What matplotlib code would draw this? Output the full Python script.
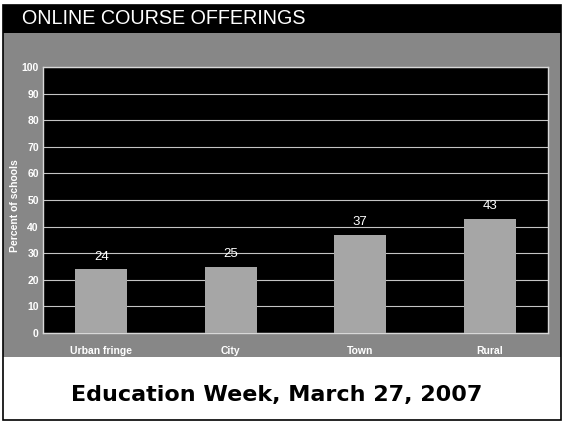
import matplotlib
matplotlib.use('Agg')
import matplotlib.pyplot as plt
from matplotlib.patches import Rectangle

categories = ['Urban fringe', 'City', 'Town', 'Rural']
values = [24, 25, 37, 43]
yticks = [0, 10, 20, 30, 40, 50, 60, 70, 80, 90, 100]

W, H = 564, 423
fig = plt.figure(figsize=(W / 100, H / 100), dpi=100)
fig.patch.set_facecolor('white')


def box(x0, y0, x1, y1, z=-10, **kw):
    # pixel coords from the top-left corner
    r = Rectangle((x0 / W, 1 - y1 / H), (x1 - x0) / W, (y1 - y0) / H,
                  transform=fig.transFigure, figure=fig, zorder=z, **kw)
    fig.patches.append(r)


box(3, 33, 561, 357, facecolor='#878787', edgecolor='none')
box(3, 5, 561, 33, facecolor='black', edgecolor='none')
box(3, 5, 561, 420, z=10, facecolor='none', edgecolor='black', linewidth=1.2)

fig.text(22 / W, 1 - 19 / H, 'ONLINE COURSE OFFERINGS', color='white',
         fontsize=14.2, family='Liberation Sans', va='center', ha='left')
fig.text(277 / W, 1 - 395 / H, 'Education Week, March 27, 2007', color='black',
         fontsize=16, fontweight='bold', family='DejaVu Sans', va='center', ha='center')

ax = fig.add_axes([43 / W, 1 - 333 / H, 505 / W, 266 / H])
ax.set_facecolor('black')
x = list(range(len(categories)))
ax.bar(x, values, width=0.4, color='#a6a6a6', zorder=3)
for xi, v in zip(x, values):
    ax.text(xi, v + 2.5, str(v), color='white', ha='center', va='bottom',
            fontsize=9.5, family='Liberation Sans', zorder=4)

ax.set_xlim(-0.45, len(categories) - 0.55)
ax.set_ylim(0, 100)
ax.set_yticks(yticks)
ax.set_yticklabels([str(t) for t in yticks], color='white', fontsize=7.5,
                   family='Liberation Sans', fontweight='bold')
ax.set_xticks(x)
ax.set_xticklabels(categories, color='white', fontsize=7.5, family='Liberation Sans',
                   fontweight='bold')
ax.tick_params(axis='both', length=0)
ax.tick_params(axis='y', pad=3)
ax.tick_params(axis='x', pad=9)
ax.yaxis.grid(True, color='#c4c4c4', linewidth=0.8, zorder=0)
ax.set_axisbelow(True)
for s in ax.spines.values():
    s.set_color('#d8d8d8')
    s.set_linewidth(1)
ax.set_ylabel('Percent of schools', color='white', fontsize=7.5,
              family='Liberation Sans', fontweight='bold', labelpad=2)
ax.yaxis.set_label_coords(-0.046, 0.48)

fig.savefig('out.png', dpi=100, facecolor=fig.get_facecolor())
